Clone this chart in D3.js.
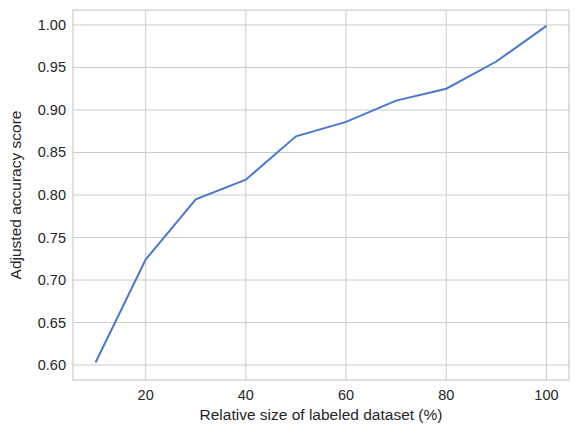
<!DOCTYPE html><html><head><script src="https://cdn.jsdelivr.net/npm/d3@7"></script>
<style>body{margin:0;background:#fff}text{font-family:"Liberation Sans",Arial,sans-serif}</style></head><body><svg id="c" width="578" height="434"></svg>
<script>
const xs=[10,20,30,40,50,60,70,80,90,100];
const ys=[0.603,0.724,0.795,0.818,0.869,0.886,0.911,0.925,0.957,0.999];
const xTicks=[20,40,60,80,100];
const yTicks=[0.60,0.65,0.70,0.75,0.80,0.85,0.90,0.95,1.00];
const svg=d3.select("#c");
const L=73,R=569,T=10,B=380;
const x=d3.scaleLinear().domain([5.5,104.5]).range([L,R]);
const y=d3.scaleLinear().domain([0.5824,1.0176]).range([B,T]);
const g=svg.append("g");
xTicks.forEach(t=>g.append("line").attr("x1",x(t)).attr("x2",x(t)).attr("y1",T).attr("y2",B).attr("stroke","#cccccc"));
yTicks.forEach(t=>g.append("line").attr("x1",L).attr("x2",R).attr("y1",y(t)).attr("y2",y(t)).attr("stroke","#cccccc"));
g.append("rect").attr("x",L).attr("y",T).attr("width",R-L).attr("height",B-T).attr("fill","none").attr("stroke","#cccccc").attr("stroke-width",1.2);
xTicks.forEach(t=>g.append("text").attr("x",x(t)).attr("y",B+20).attr("text-anchor","middle").attr("font-size",14.5).attr("fill","#262626").text(t));
yTicks.forEach(t=>g.append("text").attr("x",L-7).attr("y",y(t)+5).attr("text-anchor","end").attr("font-size",14.5).attr("fill","#262626").text(t.toFixed(2)));
svg.append("text").attr("x",(L+R)/2).attr("y",420).attr("text-anchor","middle").attr("font-size",15.5).attr("fill","#262626").text("Relative size of labeled dataset (%)");
svg.append("text").attr("transform",`translate(21,${(T+B)/2}) rotate(-90)`).attr("text-anchor","middle").attr("font-size",15.5).attr("fill","#262626").text("Adjusted accuracy score");
svg.append("path").datum(xs.map((v,i)=>[v,ys[i]])).attr("d",d3.line().x(d=>x(d[0])).y(d=>y(d[1]))).attr("fill","none").attr("stroke","#4878d0").attr("stroke-width",2);
</script></body></html>
